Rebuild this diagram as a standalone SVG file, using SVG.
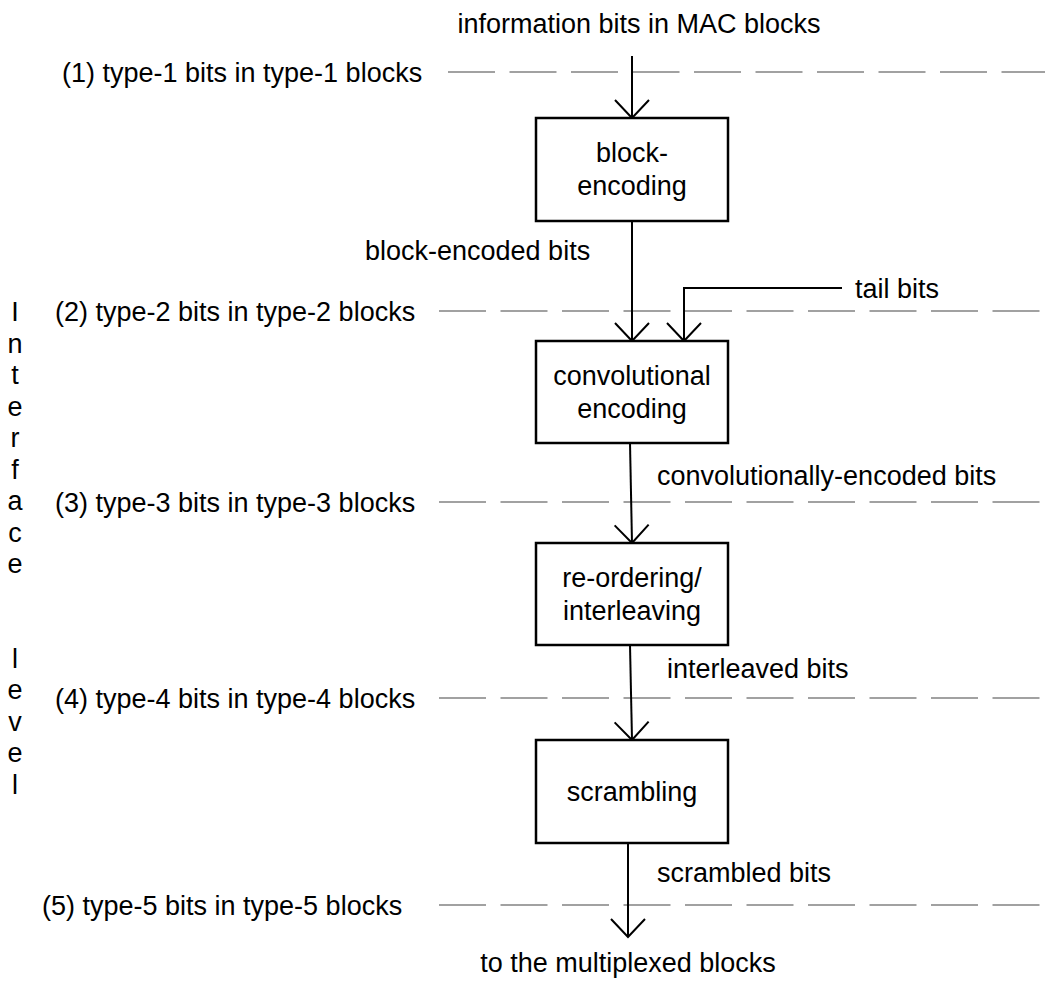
<svg xmlns="http://www.w3.org/2000/svg" width="1045" height="981" viewBox="0 0 1045 981">
<style>
text{font-family:"Liberation Sans",Arial,sans-serif;font-size:27px;fill:#000}
.box{fill:#fff;stroke:#000;stroke-width:2.5}
.dash{stroke:#444;stroke-width:1.2;stroke-dasharray:47 14.5;fill:none}
.arr{stroke:#000;stroke-width:2;fill:none}
.mid{text-anchor:middle}
</style>
<defs>
<marker id="ah" markerUnits="userSpaceOnUse" viewBox="-1 -1 21 38" refX="18" refY="17" markerWidth="21" markerHeight="38" orient="auto">
<path d="M0,0 L18,17 L0,34" fill="none" stroke="#000" stroke-width="2"/>
</marker>
</defs>
<rect width="1045" height="981" fill="#fff"/>
<g id="levels">
<line class="dash" x1="448" y1="72" x2="1045" y2="72"/>
<line class="dash" x1="439" y1="311" x2="1045" y2="311"/>
<line class="dash" x1="439" y1="502" x2="1045" y2="502"/>
<line class="dash" x1="439" y1="698" x2="1045" y2="698"/>
<line class="dash" x1="439" y1="905" x2="1045" y2="905"/>
<text x="62" y="82">(1) type-1 bits in type-1 blocks</text>
<text x="55" y="321">(2) type-2 bits in type-2 blocks</text>
<text x="55" y="512">(3) type-3 bits in type-3 blocks</text>
<text x="55" y="708">(4) type-4 bits in type-4 blocks</text>
<text x="42" y="915">(5) type-5 bits in type-5 blocks</text>
</g>
<g id="interface-level">
<text x="15" y="321" class="mid">I</text>
<text x="15" y="352.5" class="mid">n</text>
<text x="15" y="384" class="mid">t</text>
<text x="15" y="415.5" class="mid">e</text>
<text x="15" y="447" class="mid">r</text>
<text x="15" y="478.5" class="mid">f</text>
<text x="15" y="510" class="mid">a</text>
<text x="15" y="541.5" class="mid">c</text>
<text x="15" y="573" class="mid">e</text>
<text x="15" y="667.5" class="mid">l</text>
<text x="15" y="699" class="mid">e</text>
<text x="15" y="730.5" class="mid">v</text>
<text x="15" y="762" class="mid">e</text>
<text x="15" y="793.5" class="mid">l</text>
</g>
<g id="connectors">
<line class="arr" x1="632" y1="56" x2="632" y2="118" marker-end="url(#ah)"/>
<line class="arr" x1="632" y1="221" x2="632" y2="341" marker-end="url(#ah)"/>
<polyline class="arr" points="842,288 684,288 684,341" marker-end="url(#ah)"/>
<line class="arr" x1="630" y1="443" x2="632" y2="543" marker-end="url(#ah)"/>
<line class="arr" x1="630" y1="645" x2="632" y2="740" marker-end="url(#ah)"/>
<line class="arr" x1="628" y1="843" x2="628" y2="937" marker-end="url(#ah)"/>
</g>
<g id="labels">
<text x="639" y="33" class="mid">information bits in MAC blocks</text>
<text x="365" y="260">block-encoded bits</text>
<text x="855" y="298">tail bits</text>
<text x="657" y="485">convolutionally-encoded bits</text>
<text x="667" y="678">interleaved bits</text>
<text x="657" y="882">scrambled bits</text>
<text x="628" y="972" class="mid">to the multiplexed blocks</text>
</g>
<g id="block-encoding">
<rect class="box" x="536" y="118" width="192" height="103"/>
<text x="632" y="162" class="mid">block-</text>
<text x="632" y="195" class="mid">encoding</text>
</g>
<g id="convolutional-encoding">
<rect class="box" x="536" y="341" width="192" height="102"/>
<text x="632" y="385" class="mid">convolutional</text>
<text x="632" y="418" class="mid">encoding</text>
</g>
<g id="interleaving">
<rect class="box" x="536" y="543" width="192" height="102"/>
<text x="632" y="587" class="mid">re-ordering/</text>
<text x="632" y="620" class="mid">interleaving</text>
</g>
<g id="scrambling">
<rect class="box" x="536" y="740" width="192" height="103"/>
<text x="632" y="801" class="mid">scrambling</text>
</g>
</svg>
